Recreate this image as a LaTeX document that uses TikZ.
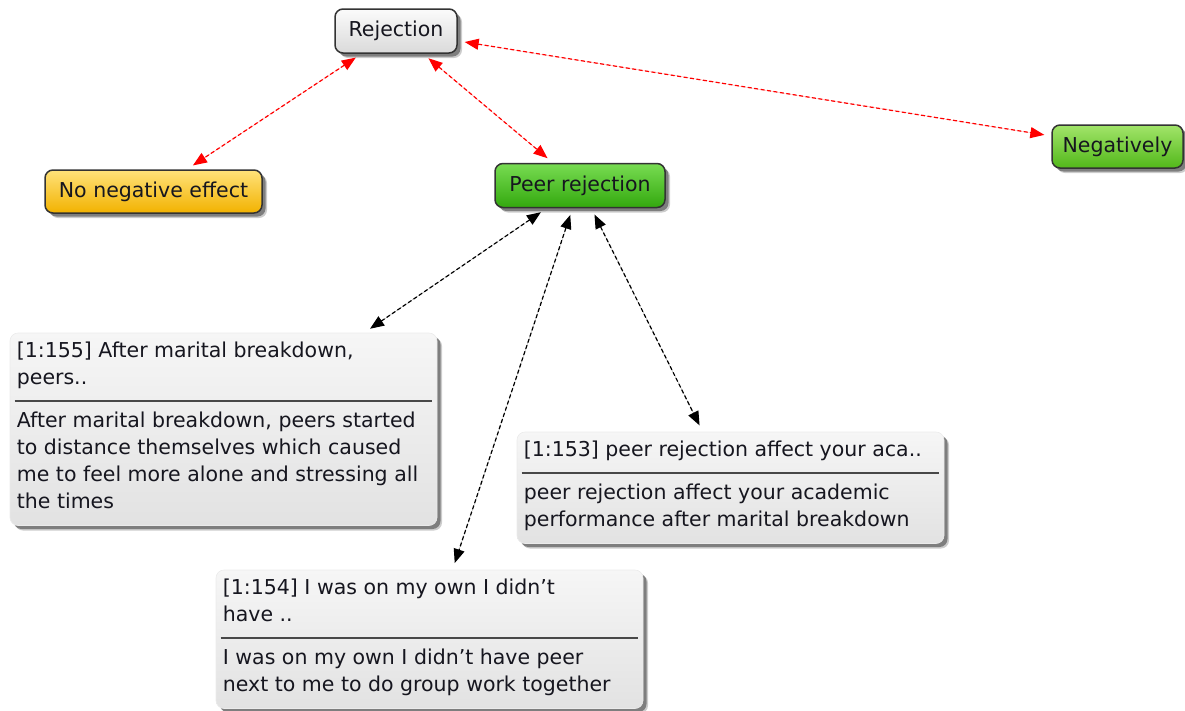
\documentclass[tikz,border=0pt]{standalone}
\usepackage{fontspec}
\setmainfont{DejaVu Sans}
\usetikzlibrary{arrows.meta,shadows,calc}

\definecolor{inkc}{HTML}{16161F}
\definecolor{edgec}{HTML}{333333}
\definecolor{greyT}{HTML}{FBFBFB}
\definecolor{greyB}{HTML}{DADADA}
\definecolor{yelT}{HTML}{FFE27A}
\definecolor{yelM}{HTML}{FFCB1C}
\definecolor{yelB}{HTML}{F2B200}
\definecolor{grnT}{HTML}{78DC52}
\definecolor{grnM}{HTML}{45C21C}
\definecolor{grnB}{HTML}{33A80E}
\definecolor{lgrT}{HTML}{A2E46A}
\definecolor{lgrM}{HTML}{6FCF30}
\definecolor{lgrB}{HTML}{52B81A}
\definecolor{noteT}{HTML}{F6F6F6}
\definecolor{noteB}{HTML}{E2E2E2}
\definecolor{sepc}{HTML}{484848}

\begin{document}
\begin{tikzpicture}[x=1pt,y=-1pt,
  font=\fontsize{20.5}{24}\selectfont,
  softshadow/.style={
    drop shadow={shadow xshift=5pt, shadow yshift=-5pt, fill=black, opacity=.2},
    drop shadow={shadow xshift=3.5pt, shadow yshift=-3.5pt, fill=black, opacity=.38}},
  concept/.style={draw=edgec, line width=1.5pt, rounded corners=8pt, inner sep=0pt,
    text=inkc, softshadow},
  plain/.style={concept, top color=greyT, bottom color=greyB},
  yellowbox/.style={concept, top color=yelT, middle color=yelM, bottom color=yelB},
  greenbox/.style={concept, top color=grnT, middle color=grnM, bottom color=grnB},
  limebox/.style={concept, top color=lgrT, middle color=lgrM, bottom color=lgrB},
  quote/.style={rounded corners=8pt, inner sep=0pt, minimum width=427pt,
    top color=noteT, bottom color=noteB, draw=white!92!black, line width=.6pt,
    softshadow},
  qline/.style={anchor=base west, inner sep=0pt, text=inkc},
  sepline/.style={draw=sepc, line width=1.8pt},
  link/.style={dashed, dash pattern=on 4pt off 2.5pt, line width=1.2pt,
    {Triangle[length=14pt,width=11pt]}-{Triangle[length=14pt,width=11pt]},
    shorten <=7pt, shorten >=7pt},
  redlink/.style={link, draw=red, fill=red},
  blacklink/.style={link, draw=black, fill=black}
]
\useasboundingbox (0,0) rectangle (1185,710);

% concept nodes
\node[plain, minimum width=122pt, minimum height=44pt] (rej) at (396,31) {Rejection};
\node[yellowbox, minimum width=217pt, minimum height=43pt] (noneg) at (153.5,191.5) {No negative effect};
\node[greenbox, minimum width=170pt, minimum height=44pt] (peer) at (580,185.5) {Peer rejection};
\node[limebox, minimum width=131pt, minimum height=43pt] (neg) at (1117.5,146.5) {Negatively};

% quotation 1:155
\node[quote, minimum height=192.5pt] (q155) at (223.5,429.25) {};
\node[qline] (q155t1) at ($(q155.north west)+(7,24.5)$) {[1:155] After marital breakdown,};
\node[qline] (q155t2) at ($(q155.north west)+(7,51.5)$) {peers..};
\draw[sepline] ($(q155.north west)+(5,68.5)$) -- ($(q155.north east)+(-5,68.5)$);
\node[qline] (q155b1) at ($(q155.north west)+(7,94.5)$) {After marital breakdown, peers started};
\node[qline] (q155b2) at ($(q155.north west)+(7,121.5)$) {to distance themselves which caused};
\node[qline] (q155b3) at ($(q155.north west)+(7,148.5)$) {me to feel more alone and stressing all};
\node[qline] (q155b4) at ($(q155.north west)+(7,175.5)$) {the times};

% quotation 1:153
\node[quote, minimum height=111.5pt] (q153) at (730.5,487.75) {};
\node[qline] (q153t1) at ($(q153.north west)+(7,24.5)$) {[1:153] peer rejection affect your aca..};
\draw[sepline] ($(q153.north west)+(5,41.5)$) -- ($(q153.north east)+(-5,41.5)$);
\node[qline] (q153b1) at ($(q153.north west)+(7,67.5)$) {peer rejection affect your academic};
\node[qline] (q153b2) at ($(q153.north west)+(7,94.5)$) {performance after marital breakdown};

% quotation 1:154
\node[quote, minimum height=138.5pt] (q154) at (429.5,639.25) {};
\node[qline] (q154t1) at ($(q154.north west)+(7,24.5)$) {[1:154] I was on my own I didn't};
\node[qline] (q154t2) at ($(q154.north west)+(7,51.5)$) {have ..};
\draw[sepline] ($(q154.north west)+(5,68.5)$) -- ($(q154.north east)+(-5,68.5)$);
\node[qline] (q154b1) at ($(q154.north west)+(7,94.5)$) {I was on my own I didn't have peer};
\node[qline] (q154b2) at ($(q154.north west)+(7,121.5)$) {next to me to do group work together};

% relations between concepts
\draw[redlink] (rej) -- (noneg);
\draw[redlink] (rej) -- (peer);
\draw[redlink] (rej) -- (neg);

% links from the code to its quotations
\draw[blacklink] (peer) -- (q155);
\draw[blacklink] (peer) -- (q154);
\draw[blacklink] (peer) -- (q153);
\end{tikzpicture}
\end{document}
